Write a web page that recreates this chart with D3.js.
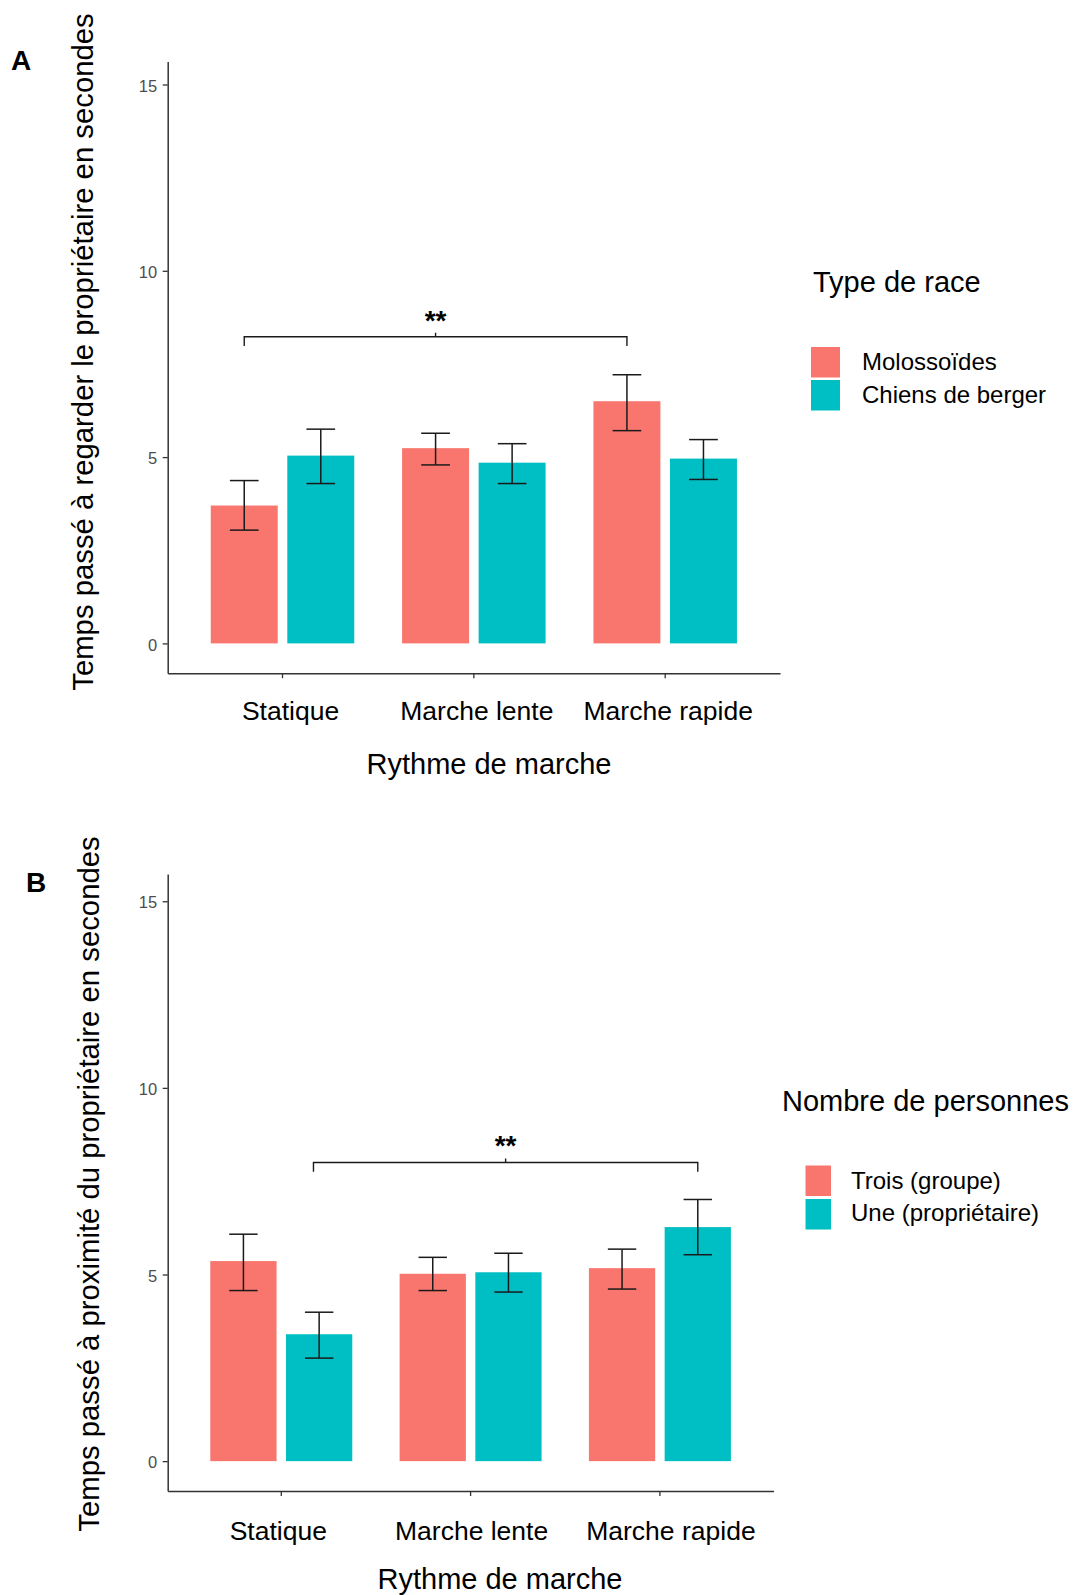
<!DOCTYPE html>
<html>
<head>
<meta charset="utf-8">
<script src="https://cdn.jsdelivr.net/npm/d3@7"></script>
<style>
  html, body { margin: 0; padding: 0; background: #fff; }
  svg { display: block; }
  text { font-family: "Liberation Sans", Arial, Helvetica, sans-serif; }
</style>
</head>
<body>
<script>
// ---- Data -------------------------------------------------------------
const rythmes = ["Statique", "Marche lente", "Marche rapide"];
const yTicks = [0, 5, 10, 15];

// Panel A : time spent looking at the owner (s), by breed type
const racesA = ["Molossoïdes", "Chiens de berger"];
const meanA_molosse = [3.70, 5.24, 6.50];
const lowA_molosse  = [3.04, 4.79, 5.71];
const highA_molosse = [4.37, 5.64, 7.21];
const meanA_berger  = [5.04, 4.85, 4.96];
const lowA_berger   = [4.29, 4.29, 4.40];
const highA_berger  = [5.75, 5.36, 5.47];

// Panel B : time spent near the owner (s), by number of people
const personnesB = ["Trois (groupe)", "Une (propriétaire)"];
const meanB_trois = [5.36, 5.02, 5.17];
const lowB_trois  = [4.57, 4.57, 4.61];
const highB_trois = [6.08, 5.46, 5.68];
const meanB_une   = [3.40, 5.06, 6.27];
const lowB_une    = [2.76, 4.53, 5.53];
const highB_une   = [3.99, 5.57, 7.01];

// Significance brackets: [category index, dodge offset] for each end, heights in seconds
const bracketA = { from: [0, -0.2], to: [2, -0.2], y: 8.23, leg: 7.98, tip: 8.34, label: "**", labelY: 8.85 };
const bracketB = { from: [0, 0.17], to: [2, 0.20], y: 8.00, leg: 7.75, tip: 8.11, label: "**", labelY: 8.62 };

const colors = ["#F8766D", "#00BFC4"];

// ---- Layout -----------------------------------------------------------
const W = 1075, H = 1595;
const svg = d3.select("body").append("svg").attr("width", W).attr("height", H);

const panels = [
  {
    tag: "A", tagX: 11, tagY: 70,
    left: 167.7, right: 780, axisBottom: 673.2, axisTop: 61.4, yMin: -0.8, yMax: 15.62,
    yTitle: "Temps passé à regarder le propriétaire en secondes", yTitleX: 93, yTitleY: 352,
    catBaseline: 720, catDx: [8, 3, 3], xTitleBaseline: 774, xTitleX: 489,
    legendTitle: "Type de race", legendX: 813, legendTitleY: 291.5,
    keyX: 811, keyY: 347, keyW: 29, keyH: 30.5, keyGap: 2.5, labelX: 862, labelY0: 370, labelStep: 32.7,
    groups: racesA,
    series: [
      { mean: meanA_molosse, low: lowA_molosse, high: highA_molosse },
      { mean: meanA_berger,  low: lowA_berger,  high: highA_berger }
    ],
    bracket: bracketA
  },
  {
    tag: "B", tagX: 26, tagY: 892,
    left: 167.7, right: 773.5, axisBottom: 1491, axisTop: 874, yMin: -0.8, yMax: 15.73,
    yTitle: "Temps passé à proximité du propriétaire en secondes", yTitleX: 99, yTitleY: 1184,
    catBaseline: 1540, catDx: [-3, 1, 11], xTitleBaseline: 1589, xTitleX: 500,
    legendTitle: "Nombre de personnes", legendX: 782, legendTitleY: 1110.5,
    keyX: 805.5, keyY: 1165.5, keyW: 25.5, keyH: 30.5, keyGap: 3, labelX: 851, labelY0: 1189, labelStep: 31.5,
    groups: personnesB,
    series: [
      { mean: meanB_trois, low: lowB_trois, high: highB_trois },
      { mean: meanB_une,   low: lowB_une,   high: highB_une }
    ],
    bracket: bracketB
  }
];

function drawPanel(p) {
  const g = svg.append("g");

  const x = d3.scaleBand().domain(rythmes).range([p.left, p.right])
    .paddingInner(0).paddingOuter(0.1);
  const S = x.step();
  const dodge = d3.scaleBand().domain(p.groups).range([-0.4 * S, 0.4 * S])
    .paddingInner(0.125).paddingOuter(0.0625);
  const y = d3.scaleLinear().domain([p.yMin, p.yMax]).range([p.axisBottom, p.axisTop]);
  const cx = (i) => x(rythmes[i]) + x.bandwidth() / 2;

  // bars
  p.series.forEach((s, gi) => {
    const grp = p.groups[gi];
    g.append("g").selectAll("rect")
      .data(rythmes.map((r, i) => ({ r, i, v: s.mean[i] })))
      .join("rect")
      .attr("x", d => cx(d.i) + dodge(grp))
      .attr("width", dodge.bandwidth())
      .attr("y", d => y(d.v))
      .attr("height", d => y(0) - y(d.v))
      .attr("fill", colors[gi]);
  });

  // error bars
  const capW = 0.15 * S;
  p.series.forEach((s, gi) => {
    const grp = p.groups[gi];
    const eb = g.append("g").attr("stroke", "#1a1a1a").attr("stroke-width", 1.5).attr("fill", "none");
    rythmes.forEach((r, i) => {
      const xc = cx(i) + dodge(grp) + dodge.bandwidth() / 2;
      eb.append("line").attr("x1", xc).attr("x2", xc).attr("y1", y(s.low[i])).attr("y2", y(s.high[i]));
      eb.append("line").attr("x1", xc - capW / 2).attr("x2", xc + capW / 2).attr("y1", y(s.high[i])).attr("y2", y(s.high[i]));
      eb.append("line").attr("x1", xc - capW / 2).attr("x2", xc + capW / 2).attr("y1", y(s.low[i])).attr("y2", y(s.low[i]));
    });
  });

  // y axis
  const yAxis = g.append("g").attr("transform", `translate(${p.left},0)`)
    .call(d3.axisLeft(y).tickValues(yTicks).tickSize(5).tickSizeOuter(0).tickPadding(5.5));
  yAxis.select(".domain").attr("stroke", "#333").attr("stroke-width", 1.5);
  yAxis.selectAll(".tick line").attr("stroke", "#333").attr("stroke-width", 1.3);
  yAxis.selectAll(".tick text").attr("fill", "#4D4D4D").attr("font-size", 16.5).attr("dy", "0.4em")
    .style("font-family", "'Liberation Sans', Arial, sans-serif");

  // x axis
  const xAxis = g.append("g").attr("transform", `translate(0,${p.axisBottom})`)
    .call(d3.axisBottom(x).tickSize(5).tickSizeOuter(0).tickPadding(0));
  xAxis.select(".domain").attr("stroke", "#333").attr("stroke-width", 1.5);
  xAxis.selectAll(".tick line").attr("stroke", "#333").attr("stroke-width", 1.3);
  xAxis.selectAll(".tick text")
    .attr("y", p.catBaseline - p.axisBottom).attr("dy", 0)
    .attr("dx", (d, i) => p.catDx[i])
    .attr("fill", "#000").attr("font-size", 26.5)
    .style("font-family", "'Liberation Sans', Arial, sans-serif");

  // axis titles
  g.append("text").attr("x", p.xTitleX).attr("y", p.xTitleBaseline)
    .attr("text-anchor", "middle").attr("font-size", 29).attr("fill", "#000")
    .text("Rythme de marche");
  g.append("text")
    .attr("transform", `translate(${p.yTitleX},${p.yTitleY}) rotate(-90)`)
    .attr("text-anchor", "middle").attr("font-size", 29.3).attr("fill", "#000")
    .text(p.yTitle);

  // panel tag
  g.append("text").attr("x", p.tagX).attr("y", p.tagY)
    .attr("font-size", 28).attr("font-weight", "bold").attr("fill", "#000").text(p.tag);

  // significance bracket
  const b = p.bracket;
  const bx1 = cx(b.from[0]) + b.from[1] * S;
  const bx2 = cx(b.to[0]) + b.to[1] * S;
  const bm = (bx1 + bx2) / 2;
  g.append("path")
    .attr("d", `M${bx1},${y(b.leg)}V${y(b.y)}H${bx2}V${y(b.leg)}M${bm},${y(b.y)}V${y(b.tip)}`)
    .attr("fill", "none").attr("stroke", "#1a1a1a").attr("stroke-width", 1.4);
  g.append("text").attr("x", bm).attr("y", y(b.labelY) + 0.575 * 28)
    .attr("text-anchor", "middle").attr("font-size", 28).attr("font-weight", "bold")
    .attr("fill", "#000").text(b.label);

  // legend
  const lg = g.append("g");
  lg.append("text").attr("x", p.legendX).attr("y", p.legendTitleY)
    .attr("font-size", 29).attr("fill", "#000").text(p.legendTitle);
  p.groups.forEach((name, gi) => {
    lg.append("rect")
      .attr("x", p.keyX).attr("y", p.keyY + gi * (p.keyH + p.keyGap))
      .attr("width", p.keyW).attr("height", p.keyH).attr("fill", colors[gi]);
    lg.append("text").attr("x", p.labelX).attr("y", p.labelY0 + gi * p.labelStep)
      .attr("font-size", 24).attr("fill", "#000").text(name);
  });
}

panels.forEach(drawPanel);
</script>
</body>
</html>
